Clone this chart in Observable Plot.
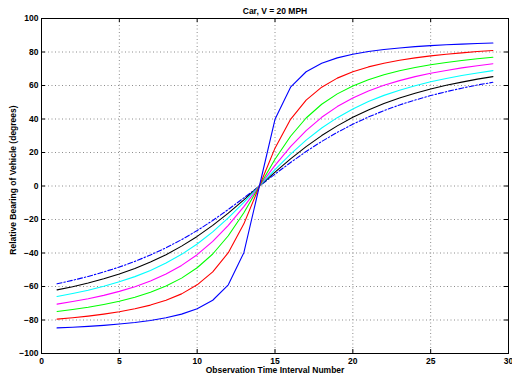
<!DOCTYPE html>
<html><head><meta charset="utf-8">
<script src="https://cdn.jsdelivr.net/npm/d3@7"></script>
<script src="https://cdn.jsdelivr.net/npm/@observablehq/plot@0.6"></script>
<style>body{margin:0;background:#fff}</style>
</head><body><div id="chart"></div>
<script>
const intervals = [1,2,3,4,5,6,7,8,9,10,11,12,13,14,15,16,17,18,19,20,21,22,23,24,25,26,27,28,29];
const blueSolid = [-84.7,-84.3,-83.8,-83.2,-82.4,-81.5,-80.3,-78.7,-76.5,-73.3,-68.2,-59.0,-39.8,0,39.8,59.0,68.2,73.3,76.5,78.7,80.3,81.5,82.4,83.2,83.8,84.3,84.7,85.1,85.4];
const redLine = [-79.5,-78.7,-77.7,-76.5,-75.1,-73.3,-71.1,-68.2,-64.4,-59.0,-51.3,-39.8,-22.6,0,22.6,39.8,51.3,59.0,64.4,68.2,71.1,73.3,75.1,76.5,77.7,78.7,79.5,80.3,80.9];
const greenLine = [-74.9,-73.7,-72.4,-70.7,-68.8,-66.4,-63.4,-59.7,-55.0,-48.8,-40.6,-29.7,-16.0,0,16.0,29.7,40.6,48.8,55.0,59.7,63.4,66.4,68.8,70.7,72.4,73.7,74.9,76.0,76.9];
const magentaLine = [-70.5,-69.0,-67.3,-65.3,-62.9,-60.1,-56.7,-52.5,-47.4,-41.0,-33.1,-23.5,-12.3,0,12.3,23.5,33.1,41.0,47.4,52.5,56.7,60.1,62.9,65.3,67.3,69.0,70.5,71.8,73.0];
const cyanLine = [-66.0,-64.2,-62.2,-59.9,-57.2,-54.1,-50.4,-46.0,-40.8,-34.6,-27.4,-19.0,-9.8,0,9.8,19.0,27.4,34.6,40.8,46.0,50.4,54.1,57.2,59.9,62.2,64.2,66.0,67.5,68.9];
const blackLine = [-62.0,-60.1,-57.9,-55.4,-52.5,-49.2,-45.4,-41.0,-35.9,-30.1,-23.5,-16.2,-8.3,0,8.3,16.2,23.5,30.1,35.9,41.0,45.4,49.2,52.5,55.4,57.9,60.1,62.0,63.8,65.3];
const blueDashed = [-58.4,-56.3,-54.0,-51.3,-48.4,-45.0,-41.2,-36.9,-32.0,-26.6,-20.6,-14.0,-7.1,0,7.1,14.0,20.6,26.6,32.0,36.9,41.2,45.0,48.4,51.3,54.0,56.3,58.4,60.3,61.9];
const xTicks = [0,5,10,15,20,25,30];
const yTicks = [-100,-80,-60,-40,-20,0,20,40,60,80,100];
const titleText = "Car, V = 20 MPH";
const xLabel = "Observation Time Interval Number";
const yLabel = "Relative Bearing of Vehicle (degrees)";

const seriesStyles = [
  {values: blueDashed, stroke: "#0000ff", dash: "5,2,1.5,2"},
  {values: blackLine, stroke: "#000000", dash: null},
  {values: cyanLine, stroke: "#00ffff", dash: null},
  {values: magentaLine, stroke: "#ff00ff", dash: null},
  {values: greenLine, stroke: "#00ff00", dash: null},
  {values: redLine, stroke: "#ff0000", dash: null},
  {values: blueSolid, stroke: "#0000ff", dash: null}
];

const W = 512, H = 381, mL = 41, mR = 4, mT = 18, mB = 28;
const innerW = W - mL - mR, innerH = H - mT - mB;
const tick = 4;

const marks = [
  Plot.gridX(xTicks.slice(1, -1), {stroke: "#8c8c8c", strokeOpacity: 1, strokeDasharray: "1,2.5"}),
  Plot.gridY(yTicks.slice(1, -1), {stroke: "#8c8c8c", strokeOpacity: 1, strokeDasharray: "1,2.5"}),
  ...seriesStyles.map(s => Plot.line(intervals.map((t, i) => ({t, v: s.values[i]})),
    {x: "t", y: "v", stroke: s.stroke, strokeWidth: 1.1, strokeDasharray: s.dash})),
  Plot.tickX(xTicks, {x: d => d, insetTop: innerH - tick, stroke: "black"}),
  Plot.tickX(xTicks, {x: d => d, insetBottom: innerH - tick, stroke: "black"}),
  Plot.tickY(yTicks, {y: d => d, insetRight: innerW - tick, stroke: "black"}),
  Plot.tickY(yTicks, {y: d => d, insetLeft: innerW - tick, stroke: "black"}),
  Plot.frame({stroke: "black", strokeWidth: 1}),
  Plot.axisX(xTicks, {tickSize: 0, tickPadding: 4, label: null, fontWeight: "bold", fill: "black"}),
  Plot.axisY(yTicks, {tickSize: 0, tickPadding: 3, label: null, fontWeight: "bold", fill: "black"}),
  Plot.text([titleText], {frameAnchor: "top", dy: -11, fontWeight: "bold", fontSize: 8.5, fill: "black"}),
  Plot.text([xLabel], {frameAnchor: "bottom", dy: 19, fontWeight: "bold", fontSize: 8.5, fill: "black"}),
  Plot.text([yLabel], {frameAnchor: "left", textAnchor: "middle", dx: -28, dy: -6, rotate: -90, fontWeight: "bold", fontSize: 8.5, fill: "black"})
];

const chart = Plot.plot({
  width: W, height: H,
  marginLeft: mL, marginRight: mR, marginTop: mT, marginBottom: mB,
  style: {fontFamily: "'Liberation Sans', Arial, sans-serif", fontSize: "8.5px", background: "#fff", color: "black"},
  x: {domain: [0, 30], axis: null},
  y: {domain: [-100, 100], axis: null},
  marks
});
document.getElementById("chart").appendChild(chart);
</script>
</body></html>
